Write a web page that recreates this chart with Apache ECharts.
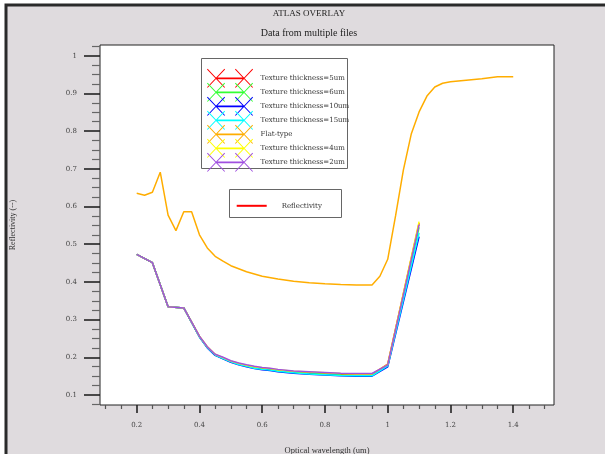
<!DOCTYPE html>
<html><head><meta charset="utf-8">
<script src="https://cdn.jsdelivr.net/npm/echarts@6/dist/echarts.min.js"></script>
<style>html,body{margin:0;padding:0;background:#fff}#c{width:605px;height:454px}</style>
</head><body><div id="c"></div>
<script>
// ---------- text ----------
const titleText = 'ATLAS OVERLAY';
const subtitleText = 'Data from multiple files';
const xAxisName = 'Optical wavelength (um)';
const yAxisName = 'Reflectivity (--)';

// ---------- ticks ----------
const xMajorTicks = [0.2, 0.4, 0.6, 0.8, 1.0, 1.2, 1.4];
const xMinorTicks = [0.1, 0.15, 0.25, 0.3, 0.35, 0.45, 0.5, 0.55, 0.65, 0.7, 0.75, 0.85, 0.9, 0.95, 1.05, 1.1, 1.15, 1.25, 1.3, 1.35, 1.45, 1.5];
const yMajorTicks = [0.1, 0.2, 0.3, 0.4, 0.5, 0.6, 0.7, 0.8, 0.9, 1.0];
const yMinorTicks = [0.075, 0.125, 0.15, 0.175, 0.225, 0.25, 0.275, 0.325, 0.35, 0.375, 0.425, 0.45, 0.475, 0.525, 0.55, 0.575, 0.625, 0.65, 0.675, 0.725, 0.75, 0.775, 0.825, 0.85, 0.875, 0.925, 0.95, 0.975, 1.025];

// ---------- data ----------
const textureX = [0.2, 0.25, 0.3, 0.35, 0.4, 0.425, 0.45, 0.475, 0.5, 0.525, 0.55, 0.575, 0.6, 0.625, 0.65, 0.7, 0.75, 0.8, 0.85, 0.9, 0.95, 1.0, 1.1];
const tex5um  = [0.473, 0.451, 0.334, 0.331, 0.255, 0.227, 0.207, 0.198, 0.189, 0.183, 0.178, 0.173, 0.170, 0.168, 0.165, 0.161, 0.159, 0.157, 0.155, 0.154, 0.154, 0.182, 0.556];
const tex6um  = [0.473, 0.451, 0.334, 0.331, 0.255, 0.226, 0.206, 0.197, 0.188, 0.182, 0.177, 0.172, 0.169, 0.167, 0.164, 0.160, 0.157, 0.155, 0.153, 0.152, 0.152, 0.178, 0.545];
const tex10um = [0.473, 0.451, 0.334, 0.331, 0.254, 0.225, 0.205, 0.196, 0.187, 0.180, 0.175, 0.170, 0.167, 0.165, 0.162, 0.158, 0.155, 0.153, 0.151, 0.150, 0.150, 0.175, 0.520];
const tex15um = [0.473, 0.451, 0.334, 0.331, 0.254, 0.226, 0.206, 0.197, 0.188, 0.181, 0.176, 0.171, 0.168, 0.166, 0.163, 0.159, 0.156, 0.154, 0.152, 0.151, 0.151, 0.177, 0.530];
const tex4um  = [0.473, 0.451, 0.334, 0.331, 0.256, 0.228, 0.208, 0.199, 0.190, 0.184, 0.179, 0.175, 0.172, 0.170, 0.167, 0.163, 0.161, 0.159, 0.157, 0.156, 0.156, 0.181, 0.560];
const tex2um  = [0.473, 0.451, 0.334, 0.331, 0.256, 0.228, 0.208, 0.200, 0.191, 0.185, 0.180, 0.176, 0.173, 0.171, 0.168, 0.164, 0.162, 0.160, 0.158, 0.157, 0.157, 0.180, 0.552];

const flatX = [0.2, 0.225, 0.25, 0.275, 0.3, 0.325, 0.35, 0.375, 0.4, 0.425, 0.45, 0.475, 0.5, 0.55, 0.6, 0.65, 0.7, 0.75, 0.8, 0.85, 0.9, 0.95, 0.975, 1.0, 1.025, 1.05, 1.075, 1.1, 1.125, 1.15, 1.175, 1.2, 1.25, 1.3, 1.35, 1.4];
const flatY = [0.635, 0.630, 0.638, 0.691, 0.577, 0.536, 0.586, 0.586, 0.525, 0.490, 0.468, 0.455, 0.443, 0.427, 0.415, 0.408, 0.402, 0.398, 0.395, 0.393, 0.392, 0.392, 0.415, 0.460, 0.575, 0.697, 0.792, 0.851, 0.893, 0.917, 0.927, 0.931, 0.935, 0.939, 0.944, 0.944];

const seriesNames = ['Texture thickness=5um', 'Texture thickness=6um', 'Texture thickness=10um', 'Texture thickness=15um', 'Flat-type', 'Texture thickness=4um', 'Texture thickness=2um'];
const seriesColors = ['#ff0000', '#33ff33', '#0000ff', '#00ffff', '#ffad00', '#ffff00', '#a050e0'];
const refName = 'Reflectivity';
const refColor = '#ff0000';

// ---------- build ----------
function pairs(xs, ys) { return xs.map((x, i) => [x, ys[i]]); }
const seriesData = [
  pairs(textureX, tex5um), pairs(textureX, tex6um), pairs(textureX, tex10um), pairs(textureX, tex15um),
  pairs(flatX, flatY), pairs(textureX, tex4um), pairs(textureX, tex2um)
];

function strokePoly(x1, y1, x2, y2, t) {
  const dx = x2 - x1, dy = y2 - y1, L = Math.hypot(dx, dy);
  const nx = -dy / L * t, ny = dx / L * t;
  return 'M' + (x1 + nx) + ',' + (y1 + ny) + 'L' + (x2 + nx) + ',' + (y2 + ny) +
         'L' + (x2 - nx) + ',' + (y2 - ny) + 'L' + (x1 - nx) + ',' + (y1 - ny) + 'Z';
}
const xIcon = 'path://' +
  strokePoly(0, 0, 18, 19, 0.5) + strokePoly(18, 0, 0, 19, 0.5) +
  strokePoly(29, 0, 47, 19, 0.5) + strokePoly(47, 0, 29, 19, 0.5) +
  strokePoly(9, 9.5, 38, 9.5, 0.9);

const serif = 'DejaVu Serif';
const X_MIN = 0.083, X_MAX = 1.530, Y_MIN = 0.0735, Y_MAX = 1.0284;

const chart = echarts.init(document.getElementById('c'), null, { renderer: 'canvas' });
const series = seriesNames.map((n, i) => ({
  name: n, type: 'line', data: seriesData[i], showSymbol: false, symbol: 'none',
  lineStyle: { color: seriesColors[i], width: 1.5 }, itemStyle: { color: seriesColors[i] },
  animation: false, z: 2
}));
series.push({ name: refName, type: 'line', data: [], symbol: 'none',
  lineStyle: { color: refColor, width: 2 }, itemStyle: { color: refColor }, animation: false });

chart.setOption({
  animation: false,
  backgroundColor: '#ffffff',
  grid: { left: 100, top: 45, right: 51, bottom: 49, show: true, backgroundColor: '#ffffff',
          borderColor: '#222', borderWidth: 1, containLabel: false, outerBoundsMode: 'none' },
  xAxis: [
    { type: 'value', min: X_MIN, max: X_MAX, position: 'bottom',
      axisLine: { show: false }, splitLine: { show: false },
      axisTick: { show: true, customValues: xMajorTicks, length: 8, lineStyle: { color: '#222', width: 1.6 } },
      axisLabel: { customValues: xMajorTicks, margin: 17, fontFamily: serif, fontSize: 7, color: '#444' },
      name: xAxisName, nameLocation: 'middle', nameGap: 41,
      nameTextStyle: { fontFamily: 'Liberation Serif', fontSize: 8.5, color: '#333' } },
    { type: 'value', min: X_MIN, max: X_MAX, position: 'bottom',
      axisLine: { show: false }, splitLine: { show: false },
      axisTick: { show: true, customValues: xMinorTicks, length: 4, lineStyle: { color: '#555', width: 1.2 } },
      axisLabel: { show: false } }
  ],
  yAxis: [
    { type: 'value', min: Y_MIN, max: Y_MAX, position: 'left',
      axisLine: { show: false }, splitLine: { show: false },
      axisTick: { show: true, customValues: yMajorTicks, length: 16, lineStyle: { color: '#222', width: 1.6 } },
      axisLabel: { customValues: yMajorTicks, margin: 23, fontFamily: serif, fontSize: 7, color: '#444' },
      name: yAxisName, nameLocation: 'middle', nameGap: 83, nameRotate: 90,
      nameTextStyle: { fontFamily: 'Liberation Serif', fontSize: 8, color: '#333' } },
    { type: 'value', min: Y_MIN, max: Y_MAX, position: 'left',
      axisLine: { show: false }, splitLine: { show: false },
      axisTick: { show: true, customValues: yMinorTicks, length: 8, lineStyle: { color: '#666', width: 1.2 } },
      axisLabel: { show: false } }
  ],
  legend: [
    { orient: 'vertical', left: 207, top: 68.8, padding: 0, itemWidth: 47, itemHeight: 19, itemGap: -5,
      icon: xIcon, data: seriesNames, selectedMode: false, itemStyle: { borderWidth: 0 },
      textStyle: { fontFamily: serif, fontSize: 7, color: '#333', padding: [0, 0, 0, 2] }, z: 5 },
    { orient: 'vertical', left: 236.7, top: 202.3, padding: 0, itemWidth: 30, itemHeight: 2,
      icon: 'rect', data: [refName], selectedMode: false, itemStyle: { borderWidth: 0 },
      textStyle: { fontFamily: serif, fontSize: 7, color: '#333', padding: [6, 0, 0, 10] }, z: 5 }
  ],
  graphic: { elements: [
    { type: 'rect', z: -10, shape: { x: 6, y: 5, width: 700, height: 600 },
      style: { fill: '#dfdbde', stroke: '#2a2a2a', lineWidth: 3 } },
    { type: 'text', z: 5, x: 309, y: 14, style: { text: titleText, fontFamily: 'Liberation Serif', fontSize: 9,
      fill: '#222', align: 'center', verticalAlign: 'middle' } },
    { type: 'text', z: 5, x: 309, y: 33.5, style: { text: subtitleText, fontFamily: 'Liberation Serif', fontSize: 10,
      fill: '#222', align: 'center', verticalAlign: 'middle' } },
    { type: 'rect', z: 1, shape: { x: 201.5, y: 58.5, width: 146, height: 110 },
      style: { fill: '#ffffff', stroke: '#666', lineWidth: 1 } },
    { type: 'rect', z: 1, shape: { x: 229.5, y: 189.5, width: 112, height: 28 },
      style: { fill: '#ffffff', stroke: '#666', lineWidth: 1 } }
  ] },
  series: series
});
</script>
</body></html>
